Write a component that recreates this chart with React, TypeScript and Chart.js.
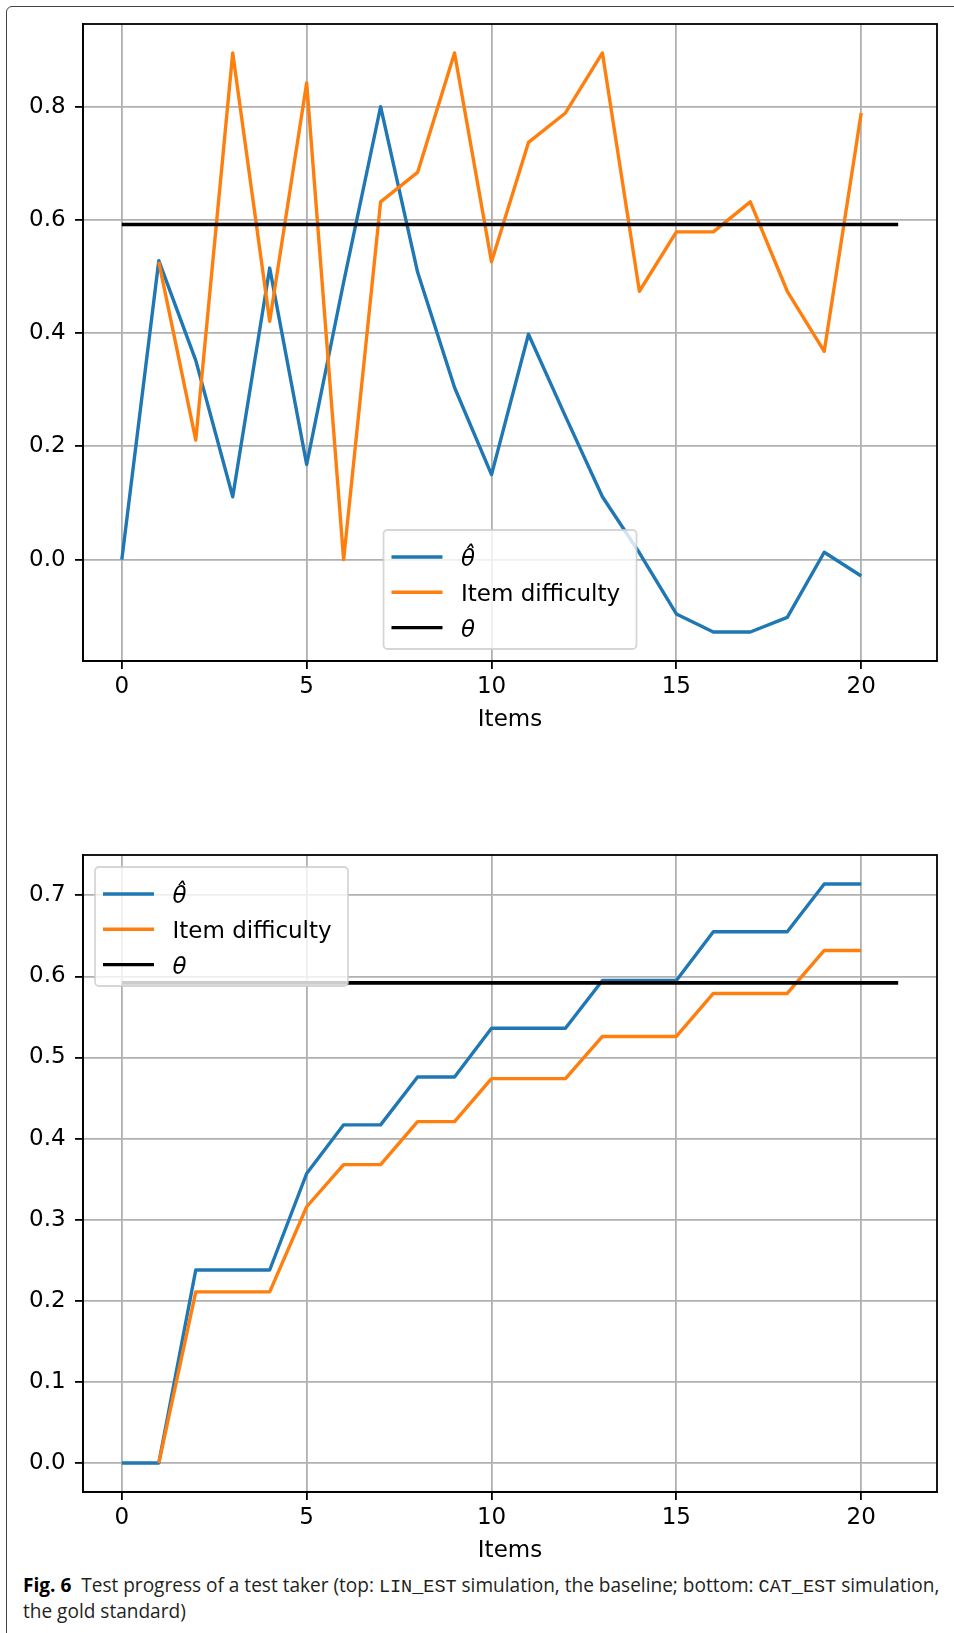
import React, { useEffect, useLayoutEffect, useRef, useState } from "react";
import { Chart, registerables } from "chart.js";

Chart.register(...registerables);

// ---------- data ----------
const items = [0, 1, 2, 3, 4, 5, 6, 7, 8, 9, 10, 11, 12, 13, 14, 15, 16, 17, 18, 19, 20];
const difficultyItems = [1, 2, 3, 4, 5, 6, 7, 8, 9, 10, 11, 12, 13, 14, 15, 16, 17, 18, 19, 20];

// top: LIN_EST simulation
const linThetaHat = [0, 0.528, 0.352, 0.111, 0.515, 0.168, 0.49, 0.8, 0.508, 0.304, 0.15, 0.398, 0.253, 0.111, 0.012, -0.096, -0.128, -0.128, -0.102, 0.013, -0.029];
const linDifficulty = [0.526, 0.211, 0.895, 0.421, 0.842, 0.0, 0.632, 0.684, 0.895, 0.526, 0.737, 0.789, 0.895, 0.474, 0.579, 0.579, 0.632, 0.474, 0.368, 0.789];

// bottom: CAT_EST simulation
const catThetaHat = [0, 0, 0.238, 0.238, 0.238, 0.357, 0.417, 0.417, 0.476, 0.476, 0.536, 0.536, 0.536, 0.595, 0.595, 0.595, 0.655, 0.655, 0.655, 0.714, 0.714];
const catDifficulty = [0, 0.211, 0.211, 0.211, 0.316, 0.368, 0.368, 0.421, 0.421, 0.474, 0.474, 0.474, 0.526, 0.526, 0.526, 0.579, 0.579, 0.579, 0.632, 0.632];

const trueTheta = 0.592;
const thetaSpan = [0, 21];

const xTicks = [0, 5, 10, 15, 20];
const linYTicks = [0, 0.2, 0.4, 0.6, 0.8];
const catYTicks = [0, 0.1, 0.2, 0.3, 0.4, 0.5, 0.6, 0.7];

const seriesLabels = ["\u03B8\u0302", "Item difficulty", "\u03B8"];
const seriesColors = ["#1f77b4", "#ff7f0e", "#000000"];

// ---------- helpers ----------
const FONT = "'DejaVu Sans', 'Liberation Sans', sans-serif";

function limits(values: number[]) {
  const lo = Math.min(...values);
  const hi = Math.max(...values);
  const m = (hi - lo) * 0.05;
  return [lo - m, hi + m];
}

type LegendPlacement = "lowerCenter" | "upperLeft";

function legendPlugin(placement: LegendPlacement) {
  return {
    id: "mplLegend",
    afterDraw(chart: any) {
      const { ctx, chartArea: a } = chart;
      const w = 253;
      const h = 119;
      const pad = 12;
      const x = placement === "upperLeft" ? a.left + pad : (a.left + a.right) / 2 - w / 2;
      const y = placement === "upperLeft" ? a.top + pad : a.bottom - pad - h;
      ctx.save();
      ctx.beginPath();
      const r = 4;
      ctx.moveTo(x + r, y);
      ctx.lineTo(x + w - r, y);
      ctx.arcTo(x + w, y, x + w, y + r, r);
      ctx.lineTo(x + w, y + h - r);
      ctx.arcTo(x + w, y + h, x + w - r, y + h, r);
      ctx.lineTo(x + r, y + h);
      ctx.arcTo(x, y + h, x, y + h - r, r);
      ctx.lineTo(x, y + r);
      ctx.arcTo(x, y, x + r, y, r);
      ctx.closePath();
      ctx.fillStyle = "rgba(255,255,255,0.8)";
      ctx.fill();
      ctx.strokeStyle = "rgba(204,204,204,0.8)";
      ctx.lineWidth = 1.8;
      ctx.stroke();
      const dsets = chart.data.datasets;
      dsets.forEach((ds: any, i: number) => {
        const cy = y + 27 + i * 35.3;
        ctx.beginPath();
        ctx.strokeStyle = ds.borderColor;
        ctx.lineWidth = 3.4;
        ctx.lineCap = "butt";
        ctx.moveTo(x + 8, cy);
        ctx.lineTo(x + 59, cy);
        ctx.stroke();
        ctx.fillStyle = "#000";
        ctx.textAlign = "left";
        ctx.textBaseline = "alphabetic";
        ctx.font = (ds.italicLabel ? "italic " : "") + "23px " + FONT;
        ctx.fillText(ds.label, x + 77.5, cy + 9);
      });
      ctx.restore();
    },
  };
}

const spinePlugin = {
  id: "spines",
  afterDatasetsDraw(chart: any) {
    const { ctx, chartArea: a } = chart;
    ctx.save();
    ctx.strokeStyle = "#000";
    ctx.lineWidth = 1.8;
    ctx.strokeRect(a.left, a.top, a.right - a.left, a.bottom - a.top);
    ctx.restore();
  },
};

type PanelProps = {
  thetaHat: number[];
  difficulty: number[];
  yTicks: number[];
  legend: LegendPlacement;
  top: number;
};

function Panel({ thetaHat, difficulty, yTicks, legend, top }: PanelProps) {
  const ref = useRef<HTMLCanvasElement | null>(null);
  useEffect(() => {
    if (!ref.current) return;
    const [xmin, xmax] = limits([...items, ...thetaSpan]);
    const [ymin, ymax] = limits([...thetaHat, ...difficulty, trueTheta]);
    const tickFont = { family: FONT, size: 23, lineHeight: 1 };
    const chart = new Chart(ref.current, {
      type: "line",
      data: {
        datasets: [
          {
            label: seriesLabels[0],
            italicLabel: true,
            data: items.map((x, i) => ({ x, y: thetaHat[i] })),
            borderColor: seriesColors[0],
            borderWidth: 3.4,
            order: 3,
          } as any,
          {
            label: seriesLabels[1],
            data: difficultyItems.map((x, i) => ({ x, y: difficulty[i] })),
            borderColor: seriesColors[1],
            borderWidth: 3.4,
            order: 2,
          },
          {
            label: seriesLabels[2],
            italicLabel: true,
            data: thetaSpan.map((x) => ({ x, y: trueTheta })),
            borderColor: seriesColors[2],
            borderWidth: 3.6,
            order: 1,
          } as any,
        ],
      },
      options: {
        animation: false,
        responsive: false,
        maintainAspectRatio: false,
        devicePixelRatio: 1,
        layout: { padding: { left: 0, right: 17, top: 24, bottom: 0 } },
        elements: {
          point: { radius: 0, hoverRadius: 0 },
          line: { tension: 0, borderJoinStyle: "round", borderCapStyle: "butt", fill: false },
        },
        plugins: {
          legend: { display: false },
          tooltip: { enabled: false },
          title: { display: false },
        },
        events: [],
        scales: {
          x: {
            type: "linear",
            min: xmin,
            max: xmax,
            afterBuildTicks: (s: any) => {
              s.ticks = xTicks.map((v) => ({ value: v }));
            },
            afterFit: (s: any) => {
              s.height = 79;
            },
            ticks: {
              font: tickFont,
              color: "#000",
              padding: 6.2,
              maxRotation: 0,
              autoSkip: false,
              callback: (v: any) => String(v),
            },
            grid: {
              color: "#b0b0b0",
              lineWidth: 1.8,
              tickLength: 8,
              tickColor: "#000",
              tickWidth: 1.8,
            },
            border: { display: true, color: "#000", width: 1.8 },
            title: {
              display: true,
              text: "Items",
              color: "#000",
              font: { family: FONT, size: 23, lineHeight: 1 },
              padding: { top: 0, bottom: 8.2 },
            },
          },
          y: {
            type: "linear",
            min: ymin,
            max: ymax,
            afterBuildTicks: (s: any) => {
              s.ticks = yTicks.map((v) => ({ value: v }));
            },
            afterFit: (s: any) => {
              s.width = 83;
            },
            ticks: {
              font: tickFont,
              color: "#000",
              padding: 9.3,
              autoSkip: false,
              callback: (v: any) => Number(v).toFixed(1),
            },
            grid: {
              color: "#b0b0b0",
              lineWidth: 1.8,
              tickLength: 8,
              tickColor: "#000",
              tickWidth: 1.8,
            },
            border: { display: true, color: "#000", width: 1.8 },
          },
        },
      },
      plugins: [spinePlugin, legendPlugin(legend)],
    } as any);
    return () => chart.destroy();
  }, [thetaHat, difficulty, yTicks, legend]);

  return (
    <canvas
      ref={ref}
      width={954}
      height={740}
      style={{ position: "absolute", left: 0, top, width: 954, height: 740 }}
    />
  );
}

const mono: React.CSSProperties = {
  fontFamily: "'Liberation Mono', 'DejaVu Sans Mono', monospace",
  fontSize: "0.97em",
};

// caption: first line is fitted to the reference's line width
const CAPTION_LINE_WIDTH = 917;
const BASE_CAPTION_SIZE = 17.5;

function Caption() {
  const lineRef = useRef<HTMLSpanElement | null>(null);
  const [size, setSize] = useState(BASE_CAPTION_SIZE);
  useLayoutEffect(() => {
    if (!lineRef.current) return;
    const w = lineRef.current.getBoundingClientRect().width;
    if (w > 0 && size === BASE_CAPTION_SIZE) {
      setSize(BASE_CAPTION_SIZE * (CAPTION_LINE_WIDTH / w));
    }
  }, [size]);
  return (
    <div
      style={{
        position: "absolute",
        left: 23,
        top: 1598,
        width: 940,
        fontFamily: "'Open Sans', Lato, sans-serif",
        fontSize: size + "px",
        lineHeight: "26px",
        color: "#231f20",
        whiteSpace: "nowrap",
      }}
    >
      <div style={{ position: "absolute", left: 0, top: 0, transform: "translateY(-100%)" }} />
      <span ref={lineRef} style={{ display: "inline-block", position: "absolute", left: 0, bottom: 0, lineHeight: "normal" }}>
        <b style={{ color: "#000" }}>Fig. 6</b>
        {"\u00A0 Test progress of a test taker (top: "}
        <span style={mono}>LIN_EST</span>
        {" simulation, the baseline; bottom: "}
        <span style={mono}>CAT_EST</span>
        {" simulation,"}
      </span>
      <span style={{ display: "inline-block", position: "absolute", left: 0, bottom: -26, lineHeight: "normal" }}>
        {"the gold standard)"}
      </span>
    </div>
  );
}

export default function App() {
  return (
    <div
      style={{
        position: "absolute",
        left: 0,
        top: 0,
        width: 954,
        height: 1633,
        overflow: "hidden",
        background: "#fff",
      }}
    >
      <div
        style={{
          position: "absolute",
          left: 6,
          top: 6,
          width: 1200,
          height: 1900,
          border: "1.3px solid #444",
          borderRadius: 6,
          boxSizing: "border-box",
        }}
      />
      <Panel thetaHat={linThetaHat} difficulty={linDifficulty} yTicks={linYTicks} legend="lowerCenter" top={0} />
      <Panel thetaHat={catThetaHat} difficulty={catDifficulty} yTicks={catYTicks} legend="upperLeft" top={831} />
      <Caption />
    </div>
  );
}
